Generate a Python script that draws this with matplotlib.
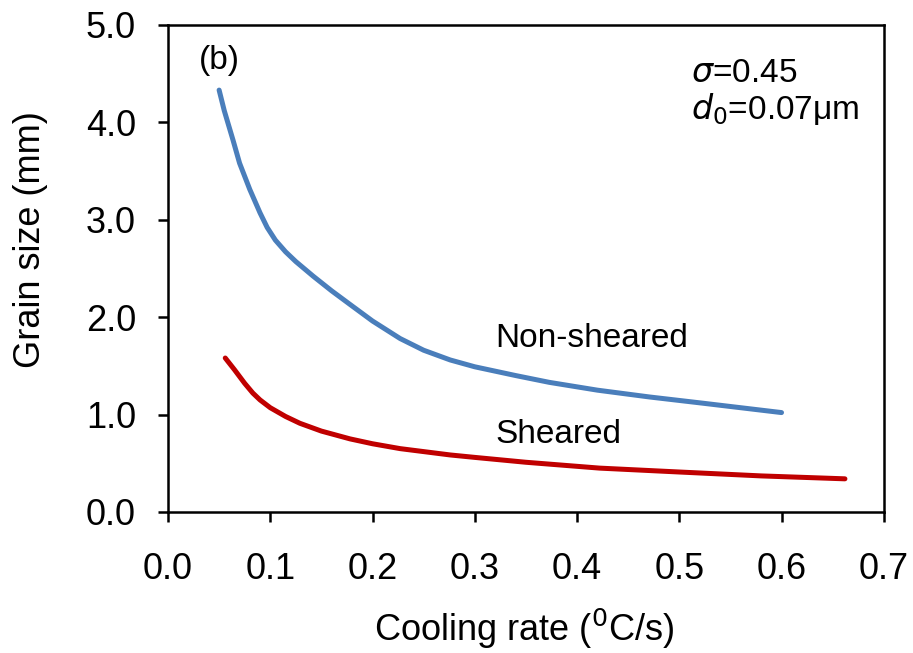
import matplotlib.pyplot as plt

plt.rcParams['font.family'] = ['Liberation Sans', 'DejaVu Sans']

rate_non = [0.050, 0.055, 0.0635, 0.070, 0.080, 0.090, 0.097, 0.105, 0.115, 0.125,
            0.142, 0.160, 0.178, 0.200, 0.227, 0.250, 0.276, 0.300, 0.340, 0.373,
            0.420, 0.471, 0.520, 0.560, 0.600]
size_non = [4.33, 4.12, 3.82, 3.58, 3.31, 3.07, 2.92, 2.79, 2.67, 2.57,
            2.42, 2.27, 2.13, 1.96, 1.78, 1.66, 1.56, 1.49, 1.40, 1.33,
            1.25, 1.18, 1.12, 1.07, 1.02]

rate_sh = [0.056, 0.065, 0.075, 0.083, 0.090, 0.100, 0.115, 0.129, 0.150, 0.178,
           0.200, 0.227, 0.276, 0.300, 0.350, 0.422, 0.500, 0.580, 0.662]
size_sh = [1.58, 1.46, 1.32, 1.22, 1.15, 1.07, 0.98, 0.91, 0.83, 0.75,
           0.70, 0.65, 0.585, 0.56, 0.51, 0.45, 0.41, 0.37, 0.34]

xticks = [0.0, 0.1, 0.2, 0.3, 0.4, 0.5, 0.6, 0.7]
yticks = [0.0, 1.0, 2.0, 3.0, 4.0, 5.0]

fig = plt.figure(figsize=(9.13, 6.53), dpi=100)
ax = fig.add_axes([0.184, 0.216, 0.784, 0.746])

ax.plot(rate_non, size_non, color='#4a7ebb', lw=3.6, solid_capstyle='round',
        solid_joinstyle='round')
ax.plot(rate_sh, size_sh, color='#c00000', lw=3.6, solid_capstyle='round',
        solid_joinstyle='round')

ax.set_xlim(0, 0.7)
ax.set_ylim(0, 5)
ax.set_xticks(xticks)
ax.set_xticklabels([f'{v:.1f}' for v in xticks])
ax.set_yticks(yticks)
ax.set_yticklabels([f'{v:.1f}' for v in yticks])
ax.tick_params(direction='out', length=7, width=1.8, labelsize=26)
ax.tick_params(axis='x', pad=22)
ax.tick_params(axis='y', pad=16)
for s in ax.spines.values():
    s.set_linewidth(1.8)

ax.set_xlabel('Cooling rate ($^{\\rm 0}$C/s)', fontsize=26)
ax.xaxis.set_label_coords(0.497, -0.195)
ax.set_ylabel('Grain size (mm)', fontsize=26)
ax.yaxis.set_label_coords(-0.168, 0.56)

ax.text(0.030, 4.63, '(b)', fontsize=24, ha='left', va='center')
ax.text(0.511, 4.50, r'$\sigma$=0.45', fontsize=24, ha='left', va='center')
ax.text(0.511, 4.14, r'$d_0$=0.07μm', fontsize=24, ha='left', va='center')
ax.text(0.32, 1.78, 'Non-sheared', fontsize=24, ha='left', va='center')
ax.text(0.32, 0.79, 'Sheared', fontsize=24, ha='left', va='center')

fig.savefig('out.png', dpi=100)
